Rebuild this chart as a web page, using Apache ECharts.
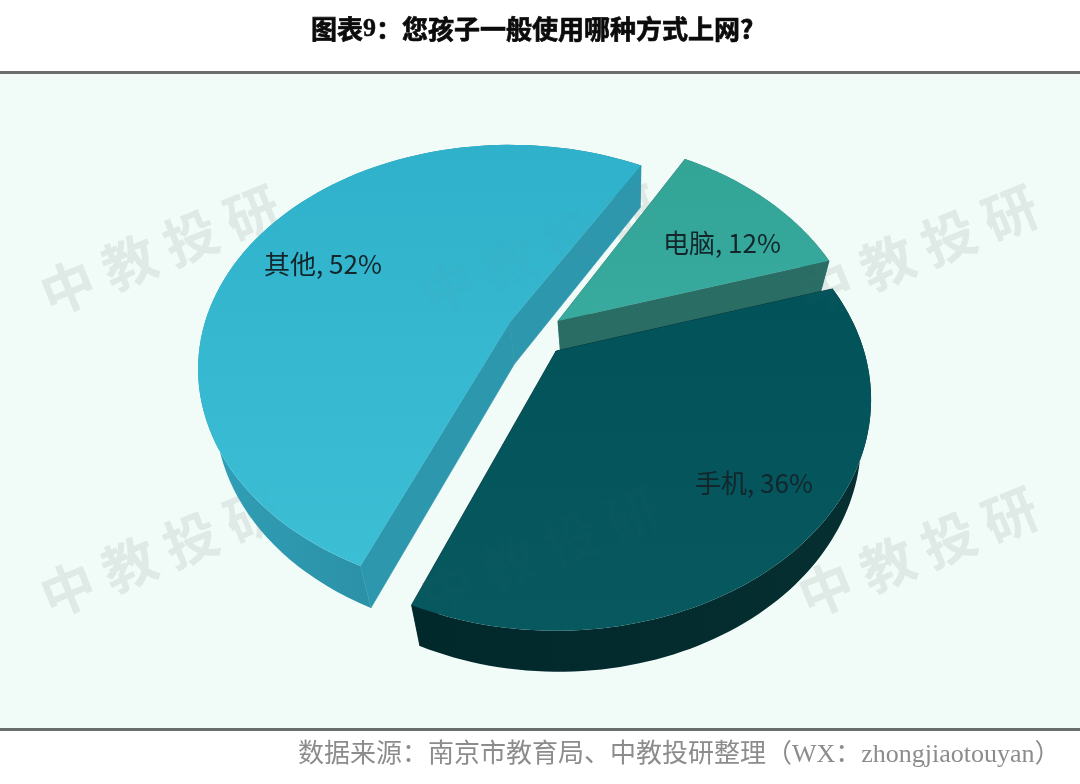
<!DOCTYPE html>
<html><head><meta charset="utf-8">
<style>html,body{margin:0;padding:0;background:#fff}#c{width:1080px;height:784px}</style>
<script src="https://cdn.jsdelivr.net/npm/echarts@6/dist/echarts.min.js"></script>
</head><body><div id="c"></div>
<script>
var categories = ['电脑', '手机', '其他'];
var values = [12, 36, 52];
var titleText = '图表{n|9}：您孩子一般使用哪种方式上网?';
var sourceText = '数据来源：南京市教育局、中教投研整理（WX：zhongjiaotouyan）';
var watermarkText = '中 教 投 研';

var START = 31, K = 0.21, RX = 305, RY = 221, XF = 0.96, CX = 620;
var apexX = [558, 556, 510], apexY = [321, 351, 322], depth = [31, 41, 42];
var scaleX = [0.985, 1.01, 1], scaleY = [1, 1, 0.97], turn = [-1, -1.6, -0.5];
var labelX = [722, 754, 323], labelY = [243, 483, 264];
var topTop = ['#33a597', '#02525a', '#2fb1cb'], topBot = ['#38aa9e', '#07585f', '#3cbfd5'];
var wallA = ['#2b6f67', '#01282b', '#30a0b8'], wallB = ['#2a6a62', '#062f31', '#23798d'];
var radial = ['#2a6d65', '#01282b', '#2d97ae'];
var total = values.reduce(function (a, b) { return a + b; }, 0);

function pt(i, deg, r) {
  var t = (deg + turn[i]) * Math.PI / 180, X = r * Math.sin(t), Y = r * Math.cos(t), w = 1 + K * Y;
  return [apexX[i] + scaleX[i] * RX * X / w, apexY[i] - scaleY[i] * RY * Y / w];
}
function low(i, p) {
  return [CX + (p[0] - CX) * XF, p[1] + depth[i]];
}
function arc(i, a, b) {
  var out = [], n = 90;
  for (var j = 0; j <= n; j++) out.push(pt(i, a + (b - a) * j / n, 1));
  return out;
}
function grad(c1, c2, h) {
  return { type: 'linear', x: h ? 1 : 0, y: 0, x2: 0, y2: h ? 0 : 1,
    colorStops: [{ offset: 0, color: c1 }, { offset: 1, color: c2 }] };
}
function renderItem(params, api) {
  var i = params.dataIndex, before = 0;
  for (var q = 0; q < i; q++) before += values[q];
  var a = START + before / total * 360, b = a + api.value(0) / total * 360;
  var rim = arc(i, a, b), apex = pt(i, 0, 0);
  var rimLow = rim.map(function (p) { return low(i, p); });
  var apexLow = low(i, apex);
  var p0 = rim[0], p1 = rim[rim.length - 1];
  var ch = [];
  ch.push({ type: 'polygon', shape: { points: rim.concat(rimLow.slice().reverse()) },
    style: { fill: grad(wallB[i], wallA[i], true) } });
  [[p0, low(i, p0)], [p1, low(i, p1)]].forEach(function (e) {
    ch.push({ type: 'polygon', shape: { points: [apex, e[0], e[1], apexLow] },
      style: { fill: radial[i], stroke: radial[i], lineWidth: 0.6 } });
  });
  ch.push({ type: 'polygon', shape: { points: [apex].concat(rim) },
    style: { fill: grad(topTop[i], topBot[i], false) } });
  ch.push({ type: 'text', style: { x: labelX[i], y: labelY[i], text: categories[i] + ', ' + api.value(0) + '%',
    fill: '#12262c', font: '26px "Noto Sans CJK SC"', align: 'center', verticalAlign: 'middle' } });
  return { type: 'group', children: ch };
}
var wmX = [160, 540, 918], wmY = [250, 552];
var graphics = [
  { type: 'rect', z: -10, shape: { x: 0, y: 73, width: 1080, height: 656 }, style: { fill: '#f1fbf8' } },
  { type: 'rect', z: -9, shape: { x: 0, y: 71, width: 1080, height: 3 }, style: { fill: '#6a6f6d' } },
  { type: 'rect', z: -9, shape: { x: 0, y: 728, width: 1080, height: 3 }, style: { fill: '#6a6f6d' } }
];
[[-5, 0.11], [50, 0.035]].forEach(function (layer) {
  wmY.forEach(function (y) { wmX.forEach(function (x) {
    graphics.push({ type: 'text', z: layer[0], x: x, y: y, rotation: 22 * Math.PI / 180, silent: true,
      style: { text: watermarkText, font: 'bold 54px "Noto Sans CJK SC"', fill: 'rgba(120,130,130,' + layer[1] + ')',
        align: 'center', verticalAlign: 'middle' } });
  }); });
});

var chart = echarts.init(document.getElementById('c'), null, { renderer: 'canvas' });
chart.setOption({
  animation: false,
  backgroundColor: '#ffffff',
  title: [
    { text: titleText, left: 306, top: 11,
      textStyle: { color: '#0b0b0b', fontSize: 26, fontWeight: 'bold', fontFamily: '"Noto Sans CJK SC"',
        textBorderColor: '#0b0b0b', textBorderWidth: 0.7,
        rich: { n: { fontSize: 26, fontWeight: 'bold', fontFamily: '"Liberation Serif"', color: '#0b0b0b',
          textBorderColor: '#0b0b0b', textBorderWidth: 0.4 } } } },
    { text: sourceText, left: 293, top: 737,
      textStyle: { color: '#8c8c8c', fontSize: 26, fontWeight: 'normal', fontFamily: '"Liberation Serif","Noto Sans CJK SC"' } }
  ],
  graphic: graphics,
  series: [{
    type: 'custom', coordinateSystem: 'none', renderItem: renderItem, z: 5,
    data: values.map(function (v, i) { return { name: categories[i], value: [v] }; })
  }]
});
</script></body></html>
